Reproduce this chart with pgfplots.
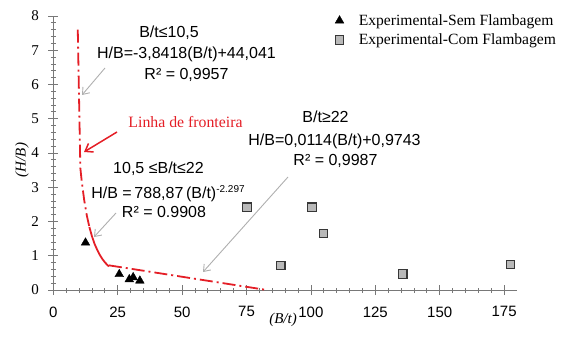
\documentclass[border=0pt]{standalone}
\usepackage{fontspec}
\setmainfont{Liberation Serif}
\newfontfamily\arial{Liberation Sans}
\usepackage{pgfplots}
\pgfplotsset{compat=1.18}
\usetikzlibrary{arrows.meta}
\definecolor{frontred}{RGB}{228,30,38}
\definecolor{axgray}{RGB}{120,120,120}
\definecolor{arrowgray}{RGB}{175,175,175}
\definecolor{sqfill}{RGB}{185,185,185}
\definecolor{sqdraw}{RGB}{55,55,55}
\begin{document}
\begin{tikzpicture}[x=1pt,y=1pt]
\path[use as bounding box] (0,0) rectangle (561,340);
\begin{axis}[
  at={(53.3pt,50pt)}, anchor=south west, scale only axis,
  width=463.7pt, height=274pt,
  xmin=0, xmax=180, ymin=0, ymax=8,
  axis x line=bottom, axis y line=left,
  axis line style={-, axgray, line width=0.8pt},
  xtick={0,25,...,175}, ytick={0,1,...,8},
  minor x tick num=4, minor y tick num=4,
  tick align=center, major tick length=10pt, minor tick length=5pt,
  tick style={axgray, line width=0.8pt},
  /pgf/number format/assume math mode=true,
  xticklabel style={font=\arial\fontsize{15}{15}\selectfont, yshift=-8pt},
  yticklabel style={font=\fontsize{15}{15}\selectfont, xshift=-6pt},
  clip=false,
  legend cell align=left,
  legend style={at={(rel axis cs:0.6075,1.010)}, anchor=north west,
    draw=none, fill=none, inner sep=0pt, row sep=5pt,
    nodes={inner sep=1pt},
    /tikz/every odd column/.append style={column sep=14pt},
    font=\fontsize{15.6}{16}\selectfont},
]
\addplot[only marks, mark=triangle*, mark size=5pt, black]
  coordinates {(12.5,1.38) (25.6,0.46) (29.5,0.31) (31.0,0.37) (33.6,0.27)};
\addlegendentry{Experimental-Sem Flambagem}
\addplot[only marks, mark=square*, mark size=4.2pt, fill=sqfill, draw=sqdraw, line width=1.2pt]
  coordinates {(75.2,2.42) (88.3,0.72) (100.4,2.42) (104.9,1.65) (135.7,0.47) (177.4,0.75)};
\addlegendentry{Experimental-Com Flambagem}
% Linha de fronteira
\addplot[frontred, line width=1.8pt, dash pattern=on 13pt off 4pt on 2pt off 4pt, forget plot]
  coordinates {(9.5,7.6) (10.5,3.56) (11,3.20) (12,2.62) (13,2.18) (14,1.84)};
\addplot[frontred, line width=1.8pt, forget plot]
  coordinates {(14,1.84) (15,1.57) (16,1.35) (17,1.18) (18,1.03) (19,0.91) (20,0.81) (21,0.73) (21.6,0.69)};
\addplot[frontred, line width=1.8pt, dash pattern=on 13pt off 4pt on 2pt off 4pt, forget plot]
  coordinates {(21.6,0.72) (82.9,0)};
\end{axis}
% axis labels
\node[font=\itshape\fontsize{15}{15}\selectfont] at (283,20) {(B/t)};
\node[font=\itshape\fontsize{15}{15}\selectfont, rotate=90] at (22,180) {(H/B)};
% annotations
\begin{scope}[every node/.style={font=\arial\fontsize{16}{16}\selectfont, anchor=base, inner sep=0pt}]
\node at (169,302.3) {B/t≤10,5};
\node at (186.5,281.3) {H/B=-3,8418(B/t)+44,041};
\node at (186.5,260.3) {R² = 0,9957};
\node at (158.5,166.3) {10,5 ≤B/t≤22};
\node at (168,141.3) {H/B =\,788,87\,(B/t)\raisebox{6pt}{\fontsize{10}{10}\selectfont -2.297}};
\node at (164,122.3) {R² = 0.9908};
\node at (325.5,217.3) {B/t≥22};
\node at (334.5,194.3) {H/B=0,0114(B/t)+0,9743};
\node at (335.5,174.3) {R² = 0,9987};
\end{scope}
\node[font=\fontsize{15.8}{16}\selectfont, text=frontred, anchor=base, inner sep=0pt] at (185.5,212.8) {Linha de fronteira};
% arrows
\draw[arrowgray, line width=0.9pt, -{Straight Barb[length=6pt,width=9pt]}] (105,272) -- (82,245);
\draw[arrowgray, line width=0.9pt, -{Straight Barb[length=6pt,width=9pt]}] (116,127) -- (94,103);
\draw[arrowgray, line width=0.9pt, -{Straight Barb[length=6pt,width=9pt]}] (288,163) -- (203,68);
\draw[frontred, line width=1.5pt, -{Straight Barb[length=7pt,width=10pt]}] (117,208) -- (84,188);
\end{tikzpicture}
\end{document}
